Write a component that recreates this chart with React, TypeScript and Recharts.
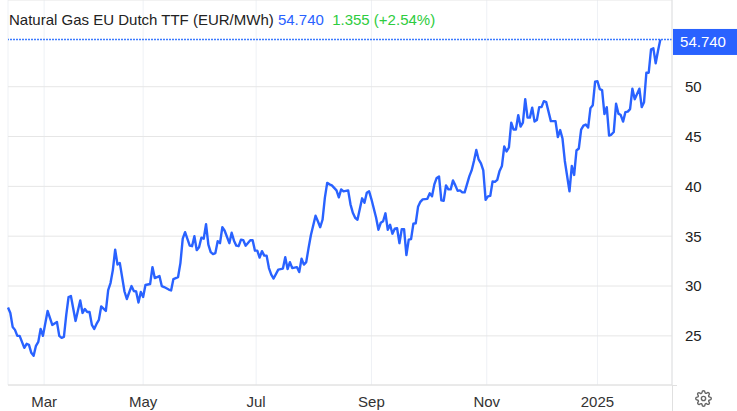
import {
  LineChart,
  Line,
  XAxis,
  YAxis,
  CartesianGrid,
  ReferenceLine,
} from "recharts";

// session number along the time axis (trading days since the start of the window)
const sessions = [
  0, 1, 2, 3, 4, 5, 7, 8, 9, 10, 11, 12, 13, 14, 15, 17, 19, 21, 22, 23, 24, 25, 26, 27, 29, 31, 32, 33, 34, 35, 36, 37, 38, 39, 40, 42, 43,
  44, 45, 46, 47, 48, 50, 51, 53, 54, 55, 56, 57, 58, 59, 61, 62, 63, 65, 66, 67, 69, 70, 71, 73, 74, 75, 76, 78, 79, 80, 81, 82, 83, 84, 85, 86, 87, 88, 89, 90, 91,
  92, 93, 95, 96, 97, 98, 99, 100, 101, 102, 104, 105, 106, 107, 108, 109, 110, 111, 112, 113, 114, 116, 118, 119, 120, 121, 122, 124, 125, 126, 127, 128, 129, 130, 132, 133, 134,
  135, 136, 137, 138, 139, 141, 142, 143, 144, 146, 147, 148, 149, 150, 152, 153, 154, 155, 156, 158, 159, 160, 161, 162, 163, 164, 165, 166, 167, 168, 169, 170, 171, 172, 173, 174, 175, 176, 177, 178, 180, 181,
  182, 183, 184, 185, 186, 187, 188, 189, 190, 191, 192, 193, 194, 195, 196, 198, 199, 200, 201, 202, 203, 204, 205, 206, 207, 208, 209, 210, 211, 212, 213, 214, 215, 216, 217, 218, 219, 220, 221, 222, 223, 224, 225,
  226, 227, 228, 229, 230, 231, 233, 235, 236, 237, 238, 239, 241, 242, 243, 244, 245, 246, 247, 248, 249, 250, 251, 252, 253, 254, 255, 256, 257, 258, 259, 260, 261, 262, 263, 264, 265, 266, 267, 268, 269, 271, 272, 273, 274, 275, 276, 277, 278, 279, 280,
];

const prices = [
  27.85, 27.3, 25.9, 25.6, 25.0, 25.0, 23.8, 24.2, 24.1, 23.3, 23.0, 24.0, 24.4, 25.7, 25.0, 27.5, 26.1, 26.4, 25.0, 24.8, 24.9, 27.1, 28.9, 29.0, 26.5, 28.55, 27.3, 27.7, 27.4, 27.4, 26.1, 25.7, 26.2, 26.6, 27.95, 27.5, 29.6,
  30.3, 31.6, 33.65, 32.15, 32.3, 29.45, 28.7, 30.0, 29.5, 29.45, 28.35, 29.4, 28.9, 30.1, 30.2, 31.9, 30.8, 31.0, 30.0, 29.9, 29.65, 29.55, 30.7, 30.9, 32.3, 34.75, 35.4, 34.05, 34.0, 35.0, 33.6, 33.9, 34.85, 34.75, 36.2, 34.15, 33.4, 33.2, 33.3, 34.5, 34.3,
  35.9, 35.55, 34.3, 35.35, 34.55, 34.05, 34.0, 34.65, 34.6, 34.05, 34.6, 34.6, 33.55, 33.55, 32.85, 33.5, 33.05, 33.05, 31.8, 31.15, 30.75, 31.65, 31.75, 32.9, 31.7, 32.4, 31.8, 31.9, 31.4, 32.75, 32.15, 32.4, 33.8, 35.1, 37.05, 36.5, 35.9,
  36.65, 38.85, 40.35, 40.2, 40.1, 39.6, 38.9, 39.7, 39.5, 39.6, 38.2, 37.35, 36.85, 36.65, 38.8, 38.35, 39.35, 39.5, 38.7, 36.85, 35.65, 36.35, 36.5, 37.3, 35.65, 36.15, 35.25, 35.75, 35.8, 34.3, 35.7, 35.7, 33.1, 34.65, 34.7, 36.25, 36.3, 37.95, 38.45, 38.7, 38.75, 39.3,
  39.0, 40.2, 40.85, 41.0, 38.6, 38.55, 40.1, 39.7, 39.7, 40.6, 40.1, 39.55, 39.6, 39.4, 39.4, 41.0, 41.6, 42.55, 43.65, 42.7, 42.3, 41.6, 38.65, 39.0, 39.05, 40.5, 40.45, 40.65, 41.55, 42.05, 44.0, 43.5, 43.9, 46.4, 45.7, 45.7, 47.15, 46.0, 46.4, 48.75, 46.9, 46.9, 47.9,
  46.5, 46.65, 47.95, 47.95, 48.55, 48.45, 46.55, 46.55, 44.95, 45.65, 44.8, 42.55, 39.5, 42.05, 41.15, 43.6, 43.8, 45.7, 46.1, 46.2, 45.9, 47.85, 48.15, 50.5, 50.55, 49.75, 49.65, 47.25, 47.95, 45.1, 45.2, 45.45, 48.3, 47.3, 47.15, 46.5, 47.45, 47.5, 47.75, 49.8, 48.75, 49.8, 47.95, 48.45, 51.4, 51.4, 53.75, 53.85, 52.35, 53.6, 54.74,
];

const monthTicks = [15.5, 58, 106.5, 156, 205.5, 253];
const monthLabels = ["Mar", "May", "Jul", "Sep", "Nov", "2025"];
const priceTicks = [25, 30, 35, 40, 45, 50];

const LAST_PRICE = 54.74;
const BLUE = "#2962ff";
const FONT = '"Liberation Sans", Arial, sans-serif';

const data = sessions.map((session, i) => ({ session, price: prices[i] }));

function LastPriceTag({ viewBox }: { viewBox?: { x: number; y: number; width: number } }) {
  if (!viewBox) return null;
  const left = viewBox.x + viewBox.width + 1;
  return (
    <g>
      <rect x={left} y={viewBox.y - 10.5} width={64} height={26} fill={BLUE} />
      <text x={left + 30} y={viewBox.y + 8} fill="#fff" fontSize={15} fontFamily={FONT} textAnchor="middle">
        54.740
      </text>
    </g>
  );
}

function GearIcon() {
  return (
    <svg
      width={17}
      height={17}
      viewBox="0 0 24 24"
      fill="none"
      stroke="#666"
      strokeWidth={2}
      style={{ position: "absolute", left: 695, top: 390 }}
    >
      <circle cx={12} cy={12} r={3} />
      <path d="M19.4 15a1.65 1.65 0 0 0 .33 1.82l.06.06a2 2 0 1 1-2.83 2.83l-.06-.06a1.65 1.65 0 0 0-1.82-.33 1.65 1.65 0 0 0-1 1.51V21a2 2 0 1 1-4 0v-.09a1.65 1.65 0 0 0-1-1.51 1.65 1.65 0 0 0-1.82.33l-.06.06a2 2 0 1 1-2.83-2.83l.06-.06a1.65 1.65 0 0 0 .33-1.82 1.65 1.65 0 0 0-1.51-1H3a2 2 0 1 1 0-4h.09a1.65 1.65 0 0 0 1.51-1 1.65 1.65 0 0 0-.33-1.82l-.06-.06a2 2 0 1 1 2.83-2.83l.06.06a1.65 1.65 0 0 0 1.82.33h.08a1.65 1.65 0 0 0 1-1.51V3a2 2 0 1 1 4 0v.09a1.65 1.65 0 0 0 1 1.51 1.65 1.65 0 0 0 1.82-.33l.06-.06a2 2 0 1 1 2.83 2.83l-.06.06a1.65 1.65 0 0 0-.33 1.82v.08a1.65 1.65 0 0 0 1.51 1H21a2 2 0 1 1 0 4h-.09a1.65 1.65 0 0 0-1.51 1z" />
    </svg>
  );
}

export default function App() {
  return (
    <div
      style={{
        position: "fixed",
        left: 0,
        top: 0,
        width: 737,
        height: 411,
        background: "#fff",
        overflow: "hidden",
        fontFamily: FONT,
      }}
    >
      <LineChart
        width={737}
        height={411}
        data={data}
        margin={{ top: 0, right: 0, bottom: 0, left: 8 }}
      >
        <CartesianGrid horizontal={false} vertical stroke="#eef1f5" />
        <CartesianGrid horizontal vertical={false} stroke="#e6e6e6" />
        <XAxis
          dataKey="session"
          type="number"
          domain={[0, 285]}
          ticks={monthTicks}
          tickFormatter={(v) => monthLabels[monthTicks.indexOf(v)]}
          height={26}
          axisLine={{ stroke: "#e0e0e0" }}
          tickLine={false}
          tickMargin={5}
          interval={0}
          tick={{ fill: "#333", fontSize: 15, fontFamily: FONT }}
        />
        <YAxis
          orientation="right"
          type="number"
          domain={[20.07, 58.7]}
          ticks={priceTicks}
          width={65}
          axisLine={{ stroke: "#e0e0e0" }}
          tickLine={false}
          tickMargin={7}
          interval={0}
          tick={{ fill: "#222", fontSize: 15, fontFamily: FONT }}
        />
        <ReferenceLine
          y={LAST_PRICE}
          stroke="#3d7bff"
          strokeWidth={1.5}
          strokeDasharray="2 1"
          ifOverflow="visible"
          label={(props: any) => <LastPriceTag viewBox={props.viewBox} />}
        />
        <Line
          type="linear"
          dataKey="price"
          stroke={BLUE}
          strokeWidth={2.4}
          strokeLinejoin="round"
          dot={false}
          isAnimationActive={false}
        />
      </LineChart>

      <div style={{ position: "absolute", left: 9, top: 11, fontSize: 15, lineHeight: "17px", whiteSpace: "pre" }}>
        <span style={{ color: "#222" }}>Natural Gas EU Dutch TTF (EUR/MWh) </span>
        <span style={{ color: BLUE }}>54.740</span>
        <span style={{ color: "#2ecc40" }}>{"  1.355 (+2.54%)"}</span>
      </div>

      <div style={{ position: "absolute", left: 672, top: 385, width: 1, height: 26, background: "#e0e0e0" }} />
      <div style={{ position: "absolute", left: 673, top: 385, width: 4, height: 1, background: "#e0e0e0" }} />
      <GearIcon />
    </div>
  );
}
